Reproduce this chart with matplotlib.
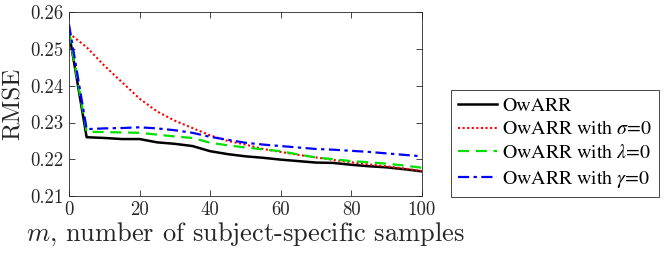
import matplotlib
matplotlib.use("Agg")
import matplotlib.pyplot as plt

plt.rcParams["font.family"] = ["cmr10", "DejaVu Serif"]
plt.rcParams["mathtext.fontset"] = "cm"
plt.rcParams["axes.formatter.use_mathtext"] = True

# data
m = [0, 5, 10, 15, 20, 25, 30, 35, 40, 45, 50, 55, 60, 65, 70, 75, 80, 85, 90, 95, 100]
owarr = [0.2545, 0.2260, 0.2258, 0.2255, 0.2255, 0.2246, 0.2242, 0.2236, 0.2222, 0.2214, 0.2208,
         0.2204, 0.2199, 0.2195, 0.2191, 0.2190, 0.2185, 0.2181, 0.2178, 0.2173, 0.2167]
no_sigma = [0.2543, 0.2505, 0.2455, 0.2410, 0.2365, 0.2330, 0.2305, 0.2285, 0.2265, 0.2250, 0.2240,
            0.2228, 0.2220, 0.2212, 0.2205, 0.2198, 0.2192, 0.2186, 0.2181, 0.2175, 0.2168]
no_lambda = [0.2545, 0.2275, 0.2274, 0.2273, 0.2272, 0.2267, 0.2262, 0.2258, 0.2245, 0.2238, 0.2232,
             0.2227, 0.2222, 0.2213, 0.2205, 0.2200, 0.2195, 0.2192, 0.2188, 0.2183, 0.2177]
no_gamma = [0.2567, 0.2282, 0.2284, 0.2285, 0.2287, 0.2284, 0.2279, 0.2272, 0.2261, 0.2253, 0.2245,
            0.2240, 0.2236, 0.2232, 0.2228, 0.2226, 0.2223, 0.2220, 0.2216, 0.2212, 0.2208]

labels = ["OwARR", r"OwARR with $\sigma$=0", r"OwARR with $\lambda$=0", r"OwARR with $\gamma$=0"]
xticks = [0, 20, 40, 60, 80, 100]
yticks = [0.21, 0.22, 0.23, 0.24, 0.25, 0.26]

DARK = "#262626"

fig = plt.figure(figsize=(6.64, 2.54), dpi=100)
ax = fig.add_axes([69 / 664, 58 / 254, 352.7 / 664, 183.7 / 254])

ax.plot(m, owarr, color="black", lw=1.8, label=labels[0])
ax.plot(m, no_sigma, color="red", lw=1.5, ls=(0, (1, 1.2)), label=labels[1])
ax.plot(m, no_lambda, color="#00e000", lw=1.6, ls=(0, (5, 3)), label=labels[2])
ax.plot(m, no_gamma, color="blue", lw=1.6, ls=(0, (5, 2, 1.5, 2)), label=labels[3])

ax.set_xlim(0, 100)
ax.set_ylim(0.21, 0.26)
ax.set_xticks(xticks)
ax.set_yticks(yticks)
ax.set_xticklabels([str(v) for v in xticks])
ax.set_yticklabels([f"{v:.2f}" for v in yticks])
ax.tick_params(direction="in", top=True, right=True, length=4, width=0.6,
               labelsize=13.5, colors=DARK, pad=4)
for s in ax.spines.values():
    s.set_color(DARK)
    s.set_linewidth(0.6)

ax.set_xlabel(r"$m$, number of subject-specific samples", fontsize=19, color=DARK, labelpad=1)
ax.set_ylabel("RMSE", fontsize=18, color=DARK, labelpad=4)

# legend in Times-like font, as in the reference
leg = fig.legend(loc="center", bbox_to_anchor=(555 / 664, 1 - 143.5 / 254),
                 prop={"family": "STIXGeneral", "size": 14.3},
                 frameon=True, fancybox=False, edgecolor=DARK, framealpha=1,
                 handlelength=2.0, handletextpad=0.25, borderpad=0.35, labelspacing=0.3,
                 borderaxespad=0)
leg.get_frame().set_linewidth(0.6)
for t in leg.get_texts():
    t.set_color("black")
    t.set_math_fontfamily("stix")

fig.savefig("out.png", dpi=100, facecolor="white")
